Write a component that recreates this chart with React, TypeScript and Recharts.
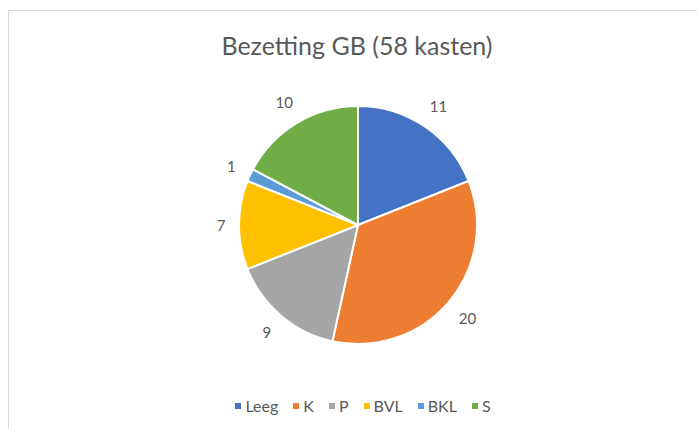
import { PieChart, Pie, Cell, Legend } from 'recharts';

const categories = ['Leeg', 'K', 'P', 'BVL', 'BKL', 'S'];
const counts = [11, 20, 9, 7, 1, 10];
const chartTitle = 'Bezetting GB (58 kasten)';

const COLORS = [
  '#4472C4', // blue
  '#ED7D31', // orange
  '#A5A5A5', // gray
  '#FFC000', // gold
  '#5B9BD5', // light blue
  '#70AD47', // green
];

const FONT = 'Lato, "Open Sans", sans-serif';
const TEXT_COLOR = '#595959';

const data = categories.map((name, i) => ({ name, value: counts[i] }));

const RAD = Math.PI / 180;

// value labels just outside the pie: the label box sits a fixed gap from the edge,
// so the text centre is pushed out by half the box measured along the radius
const renderLabel = (props: any) => {
  const { cx, cy, midAngle, outerRadius, value } = props;
  const cos = Math.cos(-midAngle * RAD);
  const sin = Math.sin(-midAngle * RAD);
  const w = String(value).length * 8;
  const h = 14;
  const r = outerRadius + 14 + Math.abs(cos) * w / 2 + Math.abs(sin) * h / 2;
  return (
    <text
      x={cx + r * cos}
      y={cy + r * sin}
      fill={TEXT_COLOR}
      fontSize={15}
      fontFamily={FONT}
      textAnchor="middle"
      dominantBaseline="central"
    >
      {value}
    </text>
  );
};

// keep the legend in data order (Recharts sorts it by name otherwise)
const renderLegend = () => (
  <div style={{ display: 'flex', justifyContent: 'center', fontFamily: FONT, fontSize: 16, color: TEXT_COLOR }}>
    {categories.map((name, i) => (
      <div key={name} style={{ display: 'flex', alignItems: 'center', marginRight: i < categories.length - 1 ? 15 : 0 }}>
        <span style={{ width: 6, height: 6, background: COLORS[i], display: 'inline-block', marginRight: 4 }} />
        <span>{name}</span>
      </div>
    ))}
  </div>
);

export default function App() {
  return (
    <div style={{ position: 'absolute', left: 0, top: 0, width: 697, height: 429, background: '#fff', overflow: 'hidden' }}>
      <div
        style={{
          position: 'absolute',
          left: 8,
          top: 10,
          width: 720,
          height: 440,
          borderLeft: '1px solid #d9d9d9',
          borderTop: '1px solid #d9d9d9',
        }}
      />
      <div
        style={{
          position: 'absolute',
          left: 0,
          top: 29,
          width: 714,
          textAlign: 'center',
          fontFamily: FONT,
          fontSize: 25,
          color: TEXT_COLOR,
          lineHeight: '32px',
        }}
      >
        {chartTitle}
      </div>
      <div style={{ position: 'absolute', left: 0, top: 0 }}>
        <PieChart width={697} height={429} margin={{ top: 0, right: 0, bottom: 0, left: 0 }}>
          <Pie
            data={data}
            dataKey="value"
            nameKey="name"
            cx={358}
            cy={225}
            outerRadius={119}
            startAngle={90}
            endAngle={-270}
            stroke="#ffffff"
            strokeWidth={2}
            label={renderLabel}
            labelLine={false}
            isAnimationActive={false}
          >
            {data.map((d, i) => (
              <Cell key={d.name} fill={COLORS[i]} />
            ))}
          </Pie>
          <Legend
            content={renderLegend}
            layout="horizontal"
            verticalAlign="bottom"
            align="center"
            wrapperStyle={{ left: 0, width: 726, bottom: 14 }}
          />
        </PieChart>
      </div>
    </div>
  );
}
